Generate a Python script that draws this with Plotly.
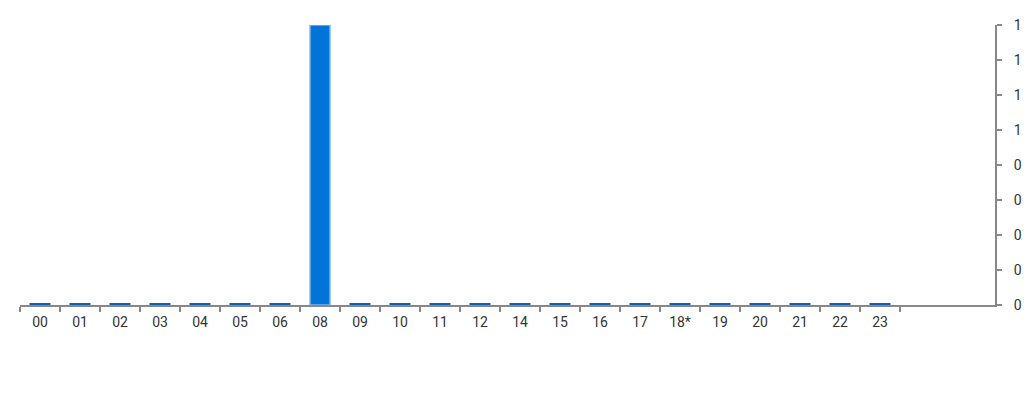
import plotly.graph_objects as go

hours = ["00", "01", "02", "03", "04", "05", "06", "08", "09", "10", "11",
         "12", "14", "15", "16", "17", "18*", "19", "20", "21", "22", "23"]
counts = [0, 0, 0, 0, 0, 0, 0, 1, 0, 0, 0,
          0, 0, 0, 0, 0, 0, 0, 0, 0, 0, 0]
y_ticks = [0, 0.125, 0.25, 0.375, 0.5, 0.625, 0.75, 0.875, 1]
y_labels = ["0", "0", "0", "0", "0", "1", "1", "1", "1"]

zero_hours = [h for h, c in zip(hours, counts) if c == 0]
zero_counts = [c for c in counts if c == 0]

fig = go.Figure()
fig.add_bar(x=hours, y=counts,
            marker=dict(color="#0074d9", line=dict(color="#7fb6ea", width=1.5)))
fig.add_scatter(x=zero_hours, y=zero_counts, mode="markers", cliponaxis=False,
                marker=dict(symbol="line-ew", size=15,
                            line=dict(color="#0b5fb5", width=4)))

fig.update_layout(
    width=1024, height=400,
    margin=dict(l=20, r=29, t=25, b=95),
    plot_bgcolor="white", paper_bgcolor="white",
    showlegend=False, bargap=0.5,
    font=dict(family="Roboto", size=14, color="#333"),
)
fig.update_xaxes(type="category", range=[-0.5, 23.875],
                 showline=True, linecolor="#888", linewidth=2,
                 ticks="outside", tickson="boundaries", ticklen=5,
                 tickcolor="#888", tickwidth=1.5, showgrid=False,
                 ticklabelstandoff=3, automargin=False, fixedrange=True)
fig.update_yaxes(side="right", range=[0, 1], tickvals=y_ticks, ticktext=y_labels,
                 showline=True, linecolor="#888", linewidth=2,
                 ticks="outside", ticklen=5, tickcolor="#888", tickwidth=1.5,
                 showgrid=False, zeroline=False, ticklabelstandoff=9,
                 automargin=False)

# drop the default body margin so the 1024x400 figure fills the window
fig.write_html("out.html", config={"displayModeBar": False},
               post_script="document.body.style.margin='0';"
                           "document.body.style.overflow='hidden';")
